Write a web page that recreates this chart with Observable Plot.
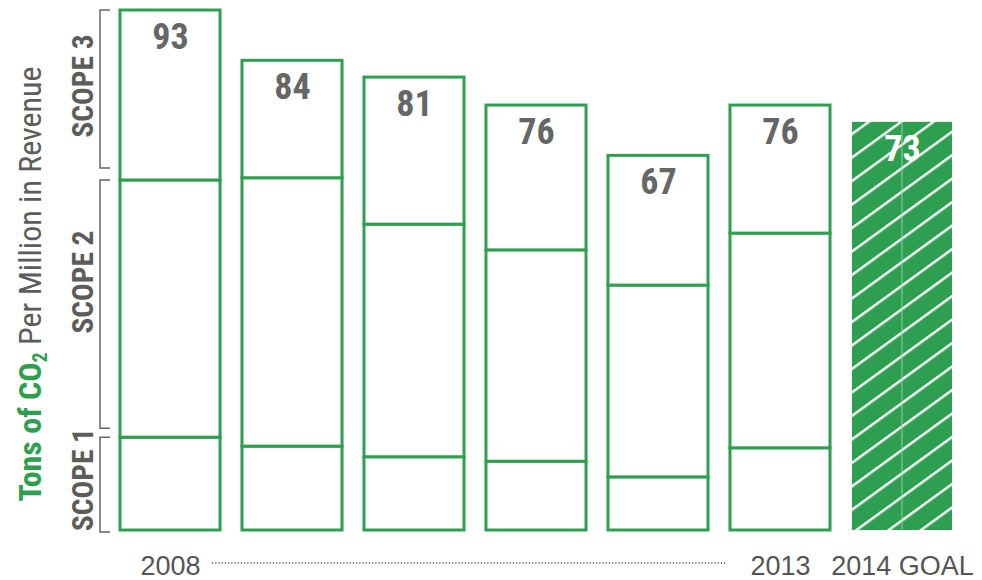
<!DOCTYPE html>
<html><head><meta charset="utf-8">
<script src="https://cdn.jsdelivr.net/npm/d3@7"></script>
<script src="https://cdn.jsdelivr.net/npm/@observablehq/plot@0.6"></script>
<style>
body{margin:0;background:#fff;}
</style>
</head><body><div id="chart"></div>
<script>
const years = ["2008","2009","2010","2011","2012","2013","2014 GOAL"];
const xLabels = ["2008","","","","","2013","2014 GOAL"];
const scopes = ["SCOPE 1","SCOPE 2","SCOPE 3"];
const scope1 = [16.6, 15.0, 13.1, 12.3, 9.5, 14.7];
const scope2 = [46.0, 48.0, 41.6, 37.8, 34.3, 38.4];
const scope3 = [30.4, 21.0, 26.3, 25.9, 23.2, 22.9];
const totals = [93, 84, 81, 76, 67, 76];
const goal = 73;

const GREEN = "#2e9f50";
const GRAY = "#5c5c5c";
const COND = '"Roboto Condensed","Liberation Sans Narrow","DejaVu Sans Condensed",Roboto,sans-serif';

const rows = [];
years.slice(0, 6).forEach((yr, i) => {
  rows.push({year: yr, scope: scopes[0], value: scope1[i]});
  rows.push({year: yr, scope: scopes[1], value: scope2[i]});
  rows.push({year: yr, scope: scopes[2], value: scope3[i]});
});
const goalRows = [{year: years[6], value: goal}];
const totalRows = years.slice(0, 6).map((yr, i) => ({year: yr, value: totals[i]}));
const labelRows = years.map((yr, i) => ({year: yr, label: xLabels[i]}));

const plot = Plot.plot({
  width: 982, height: 580,
  marginLeft: 120, marginRight: 30, marginTop: 10, marginBottom: 50,
  x: {domain: years, paddingInner: 0.18, paddingOuter: 0, round: false, axis: null},
  y: {domain: [0, 93], axis: null},
  marks: [
    Plot.barY(rows, {x: "year", y: "value", fill: "white", stroke: GREEN, strokeWidth: 3}),
    Plot.barY(goalRows, {x: "year", y: "value", fill: "url(#hatch)"}),
    Plot.text(totalRows, {x: "year", y: "value", text: d => String(d.value), dy: 27, fontSize: 36, fontWeight: "bold", fill: "#666", fontFamily: COND}),
    Plot.text(goalRows, {x: "year", y: "value", text: d => String(d.value), dy: 27, fontSize: 36, fontWeight: "bold", fill: "white", fontFamily: COND}),
    Plot.text(labelRows, {x: "year", y: 0, text: "label", dy: 36, fontSize: 27, fill: "#555", fontFamily: "Liberation Sans, Arial, sans-serif"})
  ]
});

const svg = d3.select(plot);
const xs = plot.scale("x"), ys = plot.scale("y");
const bw = xs.bandwidth;
const X = v => xs.apply(v);
const Y = v => ys.apply(v);

// hatch pattern
const defs = svg.insert("defs", ":first-child");
const pat = defs.append("pattern").attr("id", "hatch").attr("patternUnits", "userSpaceOnUse")
  .attr("width", 19).attr("height", 19).attr("patternTransform", "rotate(-36)");
pat.append("rect").attr("width", 19).attr("height", 19).attr("fill", GREEN);
pat.append("line").attr("x1", 0).attr("x2", 19).attr("y1", 1.2).attr("y2", 1.2).attr("stroke", "white").attr("stroke-width", 2.4);

// faint centre line of goal bar
svg.append("line").attr("x1", X(years[6]) + bw / 2).attr("x2", X(years[6]) + bw / 2)
  .attr("y1", Y(goal)).attr("y2", Y(0)).attr("stroke", "#8fd0a3").attr("stroke-width", 1);

// brackets for first bar segments
const b1 = [0, scope1[0], scope1[0] + scope2[0], totals[0]];
const brackets = [
  {top: b1[3], bot: b1[2], name: scopes[2], gapBot: 12, shift: -3},
  {top: b1[2], bot: b1[1], name: scopes[1], gapBot: 9, shift: -22},
  {top: b1[1], bot: b1[0], name: scopes[0], gapBot: -2, shift: -5}
];
const bx = 100;
brackets.forEach(b => {
  const y1 = Y(b.top), y2 = Y(b.bot) - b.gapBot;
  svg.append("path").attr("d", `M${bx + 10},${y1}H${bx}V${y2}H${bx + 10}`)
    .attr("fill", "none").attr("stroke", "#666").attr("stroke-width", 1.5);
  const cy = (y1 + y2) / 2 + b.shift;
  svg.append("text").attr("transform", `translate(93,${cy}) rotate(-90)`)
    .attr("text-anchor", "middle").attr("font-family", COND).attr("font-weight", "bold")
    .attr("font-size", 30).attr("fill", GRAY).attr("textLength", 103).attr("lengthAdjust", "spacingAndGlyphs")
    .text(b.name);
});

// y axis title
const t = svg.append("text").attr("transform", "translate(41,284) rotate(-90)")
  .attr("text-anchor", "middle").attr("font-family", COND).attr("font-size", 32);
t.append("tspan").attr("font-weight", "bold").attr("fill", GREEN).text("Tons of CO");
t.append("tspan").attr("font-weight", "bold").attr("fill", GREEN).attr("font-size", 20).attr("dy", 6).text("2");
t.append("tspan").attr("fill", GRAY).attr("dy", -6).text(" Per Million in Revenue");

// dotted line between 2008 and 2013
svg.append("line").attr("x1", X(years[0]) + bw / 2 + 42).attr("x2", X(years[5]) + bw / 2 - 54)
  .attr("y1", 563).attr("y2", 563).attr("stroke", "#555").attr("stroke-width", 1.3).attr("stroke-dasharray", "1.2 2");

document.getElementById("chart").appendChild(plot);
</script>
</body></html>
